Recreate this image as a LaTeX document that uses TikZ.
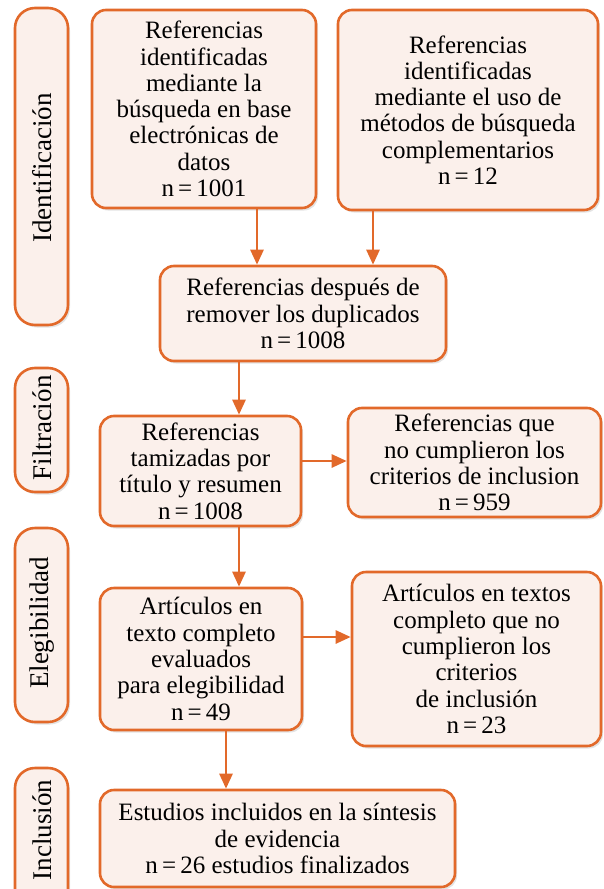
\documentclass[tikz,border=0pt]{standalone}
\usepackage{fontspec}
\setmainfont{Liberation Serif}
\usetikzlibrary{arrows.meta,shadows}
\definecolor{orng}{HTML}{E2692A}
\definecolor{boxfill}{HTML}{FBF0EB}
\tikzset{
  box/.style={draw=orng, line width=2.6pt, fill=boxfill, rounded corners=14pt,
    inner sep=0pt, align=center, font=\fontsize{25}{26.3}\selectfont,
    drop shadow={opacity=0.22, shadow xshift=2pt, shadow yshift=-2.5pt}},
  side/.style={draw=orng, line width=2.6pt, fill=boxfill, rounded corners=20pt,
    drop shadow={opacity=0.22, shadow xshift=2pt, shadow yshift=-2.5pt}},
  sidelabel/.style={rotate=90, font=\fontsize{27}{30}\selectfont, inner sep=0pt},
  arr/.style={draw=orng, line width=2.6pt, -{Triangle[width=13pt,length=15pt]}}
}
\newcommand{\eqn}{\,=\,}
\begin{document}
\begin{tikzpicture}[x=1pt,y=-1pt]
\useasboundingbox (0,0) rectangle (603,889);
\begin{scope}
\clip (0,0) rectangle (603,889);
% side boxes
\path[side] (15,8) rectangle (68,325);
\node[sidelabel] (s1) at (42,168) {Identificación};
\path[side] (15,368) rectangle (68,492);
\node[sidelabel] (s2) at (42,428) {Filtración};
\path[side] (15,528) rectangle (68,722);
\node[sidelabel] (s3) at (42,623) {Elegibilidad};
\path[side] (15,768) rectangle (68,910);
\node[sidelabel] (s4) at (42,830) {Inclusión};
% main boxes
\node[box, minimum width=224pt, minimum height=198pt] (A) at (204,109)
  {Referencias\\identificadas\\mediante la\\búsqueda en base\\electrónicas de\\datos\\n\eqn1001};
\node[box, minimum width=260pt, minimum height=200pt] (B) at (468,110)
  {Referencias\\identificadas\\mediante el uso de\\métodos de búsqueda\\complementarios\\n\eqn12};
\node[box, minimum width=286pt, minimum height=95pt] (C) at (303,313.5)
  {Referencias después de\\remover los duplicados\\n\eqn1008};
\node[box, minimum width=201pt, minimum height=110pt] (D) at (200.5,471)
  {Referencias\\tamizadas por\\título y resumen\\n\eqn1008};
\node[box, minimum width=253pt, minimum height=109pt] (E) at (474.5,462.5)
  {Referencias que\\no cumplieron los\\criterios de inclusion\\n\eqn959};
\node[box, minimum width=202pt, minimum height=142pt] (F) at (201,659)
  {Artículos en\\texto completo\\evaluados\\para elegibilidad\\n\eqn49};
\node[box, minimum width=249pt, minimum height=174pt] (G) at (476.5,659)
  {Artículos en textos\\completo que no\\cumplieron los\\criterios\\de inclusión\\n\eqn23};
\node[box, minimum width=355pt, minimum height=97pt] (H) at (277.5,838.5)
  {Estudios incluidos en la síntesis\\de evidencia\\n\eqn26 estudios finalizados};
\end{scope}
% arrows
\draw[arr] (A.south -| 257,0) -- (C.north -| 257,0);
\draw[arr] (B.south -| 373,0) -- (C.north -| 373,0);
\draw[arr] (C.south -| 239,0) -- (D.north -| 239,0);
\draw[arr] (D.east |- 0,461) -- (E.west |- 0,461);
\draw[arr] (D.south -| 239,0) -- (F.north -| 239,0);
\draw[arr] (F.east |- 0,637) -- (G.west |- 0,637);
\draw[arr] (F.south -| 226,0) -- (H.north -| 226,0);
\end{tikzpicture}
\end{document}
